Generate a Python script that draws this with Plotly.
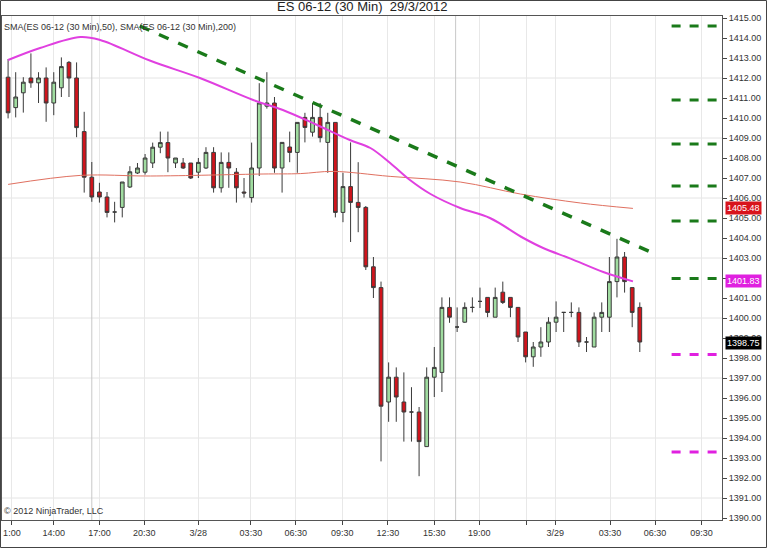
import plotly.graph_objects as go

# ---- data ----
opens = [1412.04,1410.52,1411.26,1412.0,1411.76,1412.0,1410.75,1411.51,1412.78,1412.0,
         1409.32,1407.04,1406.3,1406.05,1405.3,1405.53,1406.55,1407.25,1407.29,1407.75,
         1408.54,1408.77,1407.75,1407.75,1407.75,1407.29,1407.5,1408.28,1406.51,1407.78,
         1407.29,1406.3,1406.02,1407.5,1410.59,1410.75,1407.5,1408.55,1408.28,1410.03,
         1409.29,1410.03,1408.78,1409.78,1405.28,1406.57,1405.78,1405.53,1402.56,1401.52,
         1395.8,1397.04,1395.8,1395.3,1395.3,1393.57,1397.04,1397.28,1400.53,1399.55,
         1399.79,1400.53,1400.83,1401.03,1400.04,1401.29,1401.03,1400.53,1399.3,1398.06,
         1398.55,1398.8,1399.79,1400.28,1400.28,1400.28,1398.8,1398.55,1400.04,1400.04,
         1401.82,1403.05,1401.52,1400.53]
highs = [1412.95,1412.29,1412.04,1413.23,1412.29,1412.53,1412.29,1413.03,1412.85,1412.78,
         1410.31,1407.8,1406.76,1406.3,1405.81,1406.8,1407.59,1407.75,1408.2,1408.77,
         1409.32,1409.32,1408.0,1408.0,1407.75,1408.0,1408.54,1408.54,1408.28,1408.28,
         1407.5,1407.0,1408.77,1411.74,1412.29,1411.05,1408.78,1409.32,1409.78,1410.26,
         1410.75,1410.75,1410.26,1409.78,1407.26,1408.78,1407.79,1405.6,1403.05,1401.82,
         1397.78,1397.53,1397.28,1396.54,1395.55,1397.53,1398.55,1401.03,1401.03,1400.53,
         1400.78,1401.03,1401.52,1401.03,1401.52,1401.82,1401.03,1400.53,1399.3,1398.8,
         1399.54,1400.04,1400.83,1400.28,1400.78,1400.53,1399.05,1400.28,1400.78,1403.05,
         1403.96,1403.3,1401.52,1400.78]
lows = [1409.98,1410.03,1410.27,1411.51,1410.75,1409.81,1410.14,1411.05,1411.05,1409.04,
        1406.27,1405.81,1405.77,1405.03,1404.78,1405.03,1406.5,1407.2,1407.17,1407.5,
        1408.24,1407.29,1407.5,1407.45,1406.95,1407.0,1407.45,1406.27,1406.27,1406.51,
        1405.77,1406.02,1405.77,1407.1,1410.47,1407.26,1406.27,1407.79,1407.26,1408.78,
        1409.07,1408.78,1407.26,1405.03,1404.79,1403.8,1404.29,1402.4,1401.0,1392.83,
        1394.81,1394.81,1393.82,1393.82,1392.09,1393.57,1396.05,1396.3,1399.76,1399.3,
        1399.76,1400.28,1400.5,1400.04,1400.04,1400.7,1400.04,1398.8,1397.78,1397.56,
        1398.06,1398.55,1399.3,1399.3,1400.04,1398.55,1398.3,1398.55,1399.3,1399.3,
        1401.03,1401.27,1399.54,1398.3]
closes = [1410.26,1411.05,1411.79,1411.76,1412.0,1410.75,1411.79,1412.57,1412.0,1409.52,
          1407.04,1406.05,1406.05,1405.28,1405.3,1406.8,1407.31,1407.5,1408.0,1408.54,
          1408.77,1408.0,1408.0,1407.5,1407.0,1407.78,1408.28,1406.51,1407.78,1407.5,
          1406.51,1406.25,1407.5,1410.75,1410.75,1407.5,1408.78,1408.28,1409.78,1409.53,
          1410.03,1409.02,1409.78,1405.28,1406.57,1405.78,1405.53,1402.56,1401.52,1395.59,
          1397.04,1396.05,1395.3,1395.3,1393.82,1397.04,1397.53,1400.53,1400.04,1399.55,
          1400.53,1400.53,1400.83,1400.28,1401.03,1400.78,1400.53,1399.05,1398.06,1398.55,
          1398.8,1399.79,1400.04,1400.28,1400.28,1398.8,1398.8,1400.04,1400.28,1401.82,
          1403.05,1401.82,1400.28,1398.8]

sma50_x = [0,4.2,9.5,12.1,18.7,25.2,32.2,36.1,40.6,44.9,47.6,50.2,52.8,55.5,59.4,63.3,67.7,70.3,73.9,78.2,82.1]
sma50_y = [1412.9,1413.5,1414.05,1413.9,1412.86,1412.0,1410.9,1410.4,1409.65,1408.9,1408.5,1407.75,
           1406.9,1406.2,1405.5,1405.0,1404.0,1403.5,1402.97,1402.3,1401.83]
sma200_x = [0,9.5,18.7,33.5,38.4,42.7,50.2,59.4,67.3,75.2,82.1]
sma200_y = [1406.68,1407.13,1407.1,1407.2,1407.22,1407.33,1407.08,1406.8,1406.2,1405.75,1405.48]

trend_x = [17.3, 85.0]
trend_y = [1414.6, 1403.2]

tick_pos = [0.5,6.0,12.0,17.9,25.0,31.9,37.8,43.9,49.9,56.0,61.9,68.1,71.9,79.1,85.0,91.1]
tick_lab = ["1:00","14:00","17:00","20:30","3/28","03:30","06:30","09:30","12:30","15:30",
            "19:00","","3/29","03:30","06:30","09:30"]

green_levels = [1414.6,1410.9,1408.7,1406.6,1404.85,1401.97]
magenta_levels = [1398.17,1393.3]

price_tags = [(1405.48, "#d8141c"), (1401.83, "#e020e0"), (1398.75, "#000000")]

x = list(range(len(opens)))

ML, MR, MT, MB = 2, 46, 16, 29
PW, PH = 768 - ML - MR, 549 - MT - MB

fig = go.Figure()
fig.add_trace(go.Candlestick(
    x=x, open=opens, high=highs, low=lows, close=closes,
    increasing=dict(fillcolor="#a0dca0", line=dict(color="#3a3a3a", width=1)),
    decreasing=dict(fillcolor="#d0141c", line=dict(color="#3a3a3a", width=1)),
    whiskerwidth=0, hoverinfo="skip", showlegend=False))
fig.add_trace(go.Scatter(x=sma200_x, y=sma200_y, mode="lines", line=dict(color="#e07060", width=1, shape="spline"),
                         showlegend=False, hoverinfo="skip"))
fig.add_trace(go.Scatter(x=sma50_x, y=sma50_y, mode="lines", line=dict(color="#e040e0", width=2, shape="spline"),
                         showlegend=False, hoverinfo="skip"))
fig.add_trace(go.Scatter(x=trend_x, y=trend_y, mode="lines", line=dict(color="#1a7a1a", width=3.5, dash="dash"),
                         showlegend=False, hoverinfo="skip"))

shapes = []
for g in range(1391, 1415, 3):
    shapes.append(dict(type="line", xref="paper", x0=0, x1=1, yref="y", y0=g, y1=g,
                       line=dict(color="#e4e4e4", width=1), layer="below"))
for sx in [11, 58.8]:
    shapes.append(dict(type="line", xref="x", x0=sx, x1=sx, yref="paper", y0=0, y1=1,
                       line=dict(color="#c8c8c8", width=1), layer="below"))
for lv in green_levels:
    shapes.append(dict(type="line", xref="paper", x0=0.93, x1=1.0, yref="y", y0=lv, y1=lv,
                       line=dict(color="#1a7a1a", width=3, dash="dash")))
for lv in magenta_levels:
    shapes.append(dict(type="line", xref="paper", x0=0.93, x1=1.0, yref="y", y0=lv, y1=lv,
                       line=dict(color="#e020e0", width=3, dash="dash")))
shapes.append(dict(type="rect", xref="paper", yref="paper",
                   x0=-1.5 / PW, x1=(766.5 - ML) / PW, y0=-(MB - 1.5) / PH, y1=1 + (MT - 0.5) / PH,
                   line=dict(color="#444", width=1)))

ann = [
    dict(text="ES 06-12 (30 Min)  29/3/2012", xref="paper", yref="paper", x=0.5, y=1.0, yanchor="bottom",
         yshift=0, showarrow=False, font=dict(size=13, color="#222")),
    dict(text="SMA(ES 06-12 (30 Min),50), SMA(ES 06-12 (30 Min),200)", xref="paper", yref="paper",
         x=0.0, y=1.0, xanchor="left", yanchor="top", yshift=-4, showarrow=False, font=dict(size=9, color="#333")),
    dict(text="© 2012 NinjaTrader, LLC", xref="paper", yref="paper", x=0.0, y=0.0, xanchor="left",
         yanchor="bottom", yshift=2, showarrow=False, font=dict(size=9, color="#333")),
]
for val, col in price_tags:
    ann.append(dict(text=f"{val:.2f}", xref="paper", yref="y", x=1.0, y=val, xanchor="left", xshift=3,
                    showarrow=False, bgcolor=col, font=dict(size=9, color="white"), borderpad=1))

fig.update_layout(
    width=768, height=549, margin=dict(l=ML, r=MR, t=MT, b=MB, autoexpand=False),
    paper_bgcolor="white", plot_bgcolor="white",
    font=dict(family="Liberation Sans, Arial", size=9, color="#333"),
    shapes=shapes, annotations=ann, hovermode=False,
    xaxis=dict(range=[-0.8, 93.8], tickmode="array", tickvals=tick_pos, ticktext=tick_lab,
               showgrid=True, gridcolor="#e8e8e8", ticks="outside", ticklen=4, tickcolor="#444",
               showline=True, linecolor="#555", mirror=True, rangeslider=dict(visible=False), zeroline=False),
    yaxis=dict(range=[1389.9, 1415.1], side="right", dtick=1, tickformat=".2f", showgrid=False,
               ticks="outside", ticklen=4, tickcolor="#444", showline=True, linecolor="#555", mirror=True,
               zeroline=False),
)
fig.write_html("out.html", config={"displayModeBar": False},
               post_script="document.body.style.margin='0';document.body.style.overflow='hidden';")
